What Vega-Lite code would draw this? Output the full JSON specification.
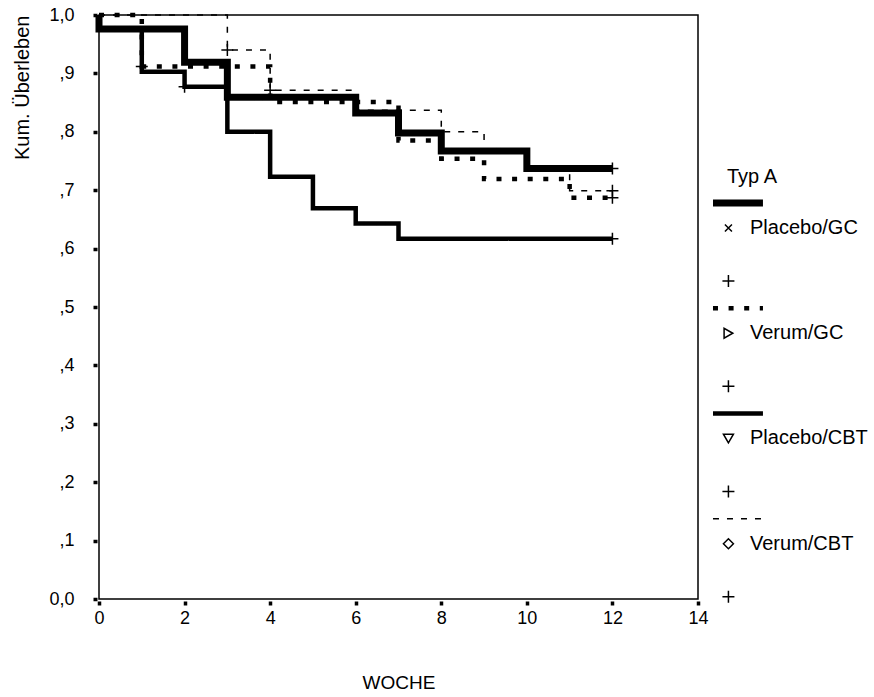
{
  "$schema": "https://vega.github.io/schema/vega-lite/v6.json",
  "padding": {"left": 11, "top": 0, "right": 0, "bottom": 0},
  "autosize": {"type": "pad"},
  "config": {"font": "Liberation Sans", "view": {"stroke": null}, "concat": {"spacing": 0}},
  "datasets": {
    "curves": [
      {"group": "Placebo/GC", "week": 0, "surv": 1.0},
      {"group": "Placebo/GC", "week": 0, "surv": 0.976},
      {"group": "Placebo/GC", "week": 2, "surv": 0.919},
      {"group": "Placebo/GC", "week": 3, "surv": 0.859},
      {"group": "Placebo/GC", "week": 6, "surv": 0.832},
      {"group": "Placebo/GC", "week": 7, "surv": 0.798},
      {"group": "Placebo/GC", "week": 8, "surv": 0.767},
      {"group": "Placebo/GC", "week": 10, "surv": 0.737},
      {"group": "Placebo/GC", "week": 12, "surv": 0.737},
      {"group": "Placebo/CBT", "week": 0, "surv": 1.0},
      {"group": "Placebo/CBT", "week": 0, "surv": 0.976},
      {"group": "Placebo/CBT", "week": 1, "surv": 0.903},
      {"group": "Placebo/CBT", "week": 2, "surv": 0.877},
      {"group": "Placebo/CBT", "week": 3, "surv": 0.8},
      {"group": "Placebo/CBT", "week": 4, "surv": 0.723},
      {"group": "Placebo/CBT", "week": 5, "surv": 0.669},
      {"group": "Placebo/CBT", "week": 6, "surv": 0.643},
      {"group": "Placebo/CBT", "week": 7, "surv": 0.617},
      {"group": "Placebo/CBT", "week": 12, "surv": 0.617},
      {"group": "Verum/CBT", "week": 0, "surv": 1.0},
      {"group": "Verum/CBT", "week": 3, "surv": 0.94},
      {"group": "Verum/CBT", "week": 4, "surv": 0.871},
      {"group": "Verum/CBT", "week": 6, "surv": 0.837},
      {"group": "Verum/CBT", "week": 8, "surv": 0.8},
      {"group": "Verum/CBT", "week": 9, "surv": 0.767},
      {"group": "Verum/CBT", "week": 10, "surv": 0.737},
      {"group": "Verum/CBT", "week": 11, "surv": 0.699},
      {"group": "Verum/CBT", "week": 12, "surv": 0.699},
      {"group": "Verum/GC", "week": 0, "surv": 1.0},
      {"group": "Verum/GC", "week": 1, "surv": 0.912},
      {"group": "Verum/GC", "week": 4, "surv": 0.851},
      {"group": "Verum/GC", "week": 7, "surv": 0.785},
      {"group": "Verum/GC", "week": 8, "surv": 0.754},
      {"group": "Verum/GC", "week": 9, "surv": 0.719},
      {"group": "Verum/GC", "week": 11, "surv": 0.687},
      {"group": "Verum/GC", "week": 12, "surv": 0.687}
    ],
    "censored": [
      {"group": "Placebo/GC", "week": 12, "surv": 0.737},
      {"group": "Placebo/CBT", "week": 2, "surv": 0.877},
      {"group": "Placebo/CBT", "week": 12, "surv": 0.617},
      {"group": "Verum/GC", "week": 1, "surv": 0.912},
      {"group": "Verum/GC", "week": 12, "surv": 0.687},
      {"group": "Verum/CBT", "week": 3, "surv": 0.94},
      {"group": "Verum/CBT", "week": 4, "surv": 0.871},
      {"group": "Verum/CBT", "week": 12, "surv": 0.699}
    ],
    "legend": [
      {"group": "Placebo/GC"},
      {"group": "Verum/GC"},
      {"group": "Placebo/CBT"},
      {"group": "Verum/CBT"}
    ]
  },
  "hconcat": [
    {
      "width": 599,
      "height": 584,
      "view": {"stroke": "black", "strokeWidth": 1.5},
      "layer": [
        {
          "data": {"name": "curves"},
          "mark": {"type": "line", "interpolate": "step-after", "color": "black", "strokeCap": "butt", "strokeJoin": "miter"},
          "encoding": {
            "x": {
              "field": "week", "type": "quantitative",
              "scale": {"domain": [0, 14], "nice": false},
              "axis": {
                "title": "WOCHE", "values": [0, 2, 4, 6, 8, 10, 12, 14], "format": "d",
                "grid": false, "domain": false, "tickSize": 4, "tickWidth": 3.5, "tickColor": "black",
                "offset": 2, "labelFontSize": 18, "labelColor": "black", "labelPadding": 4, "labelFlush": false,
                "titleFontSize": 19, "titleFontWeight": "normal", "titleColor": "black", "titlePadding": 46
              }
            },
            "y": {
              "field": "surv", "type": "quantitative",
              "scale": {"domain": [0, 1], "nice": false},
              "axis": {
                "title": "Kum. Überleben", "values": [0, 0.1, 0.2, 0.3, 0.4, 0.5, 0.6, 0.7, 0.8, 0.9, 1],
                "labelExpr": "datum.value == 0 ? '0,0' : datum.value == 1 ? '1,0' : ',' + round(datum.value * 10)",
                "grid": false, "domain": false, "tickSize": 4, "tickWidth": 3.5, "tickColor": "black",
                "offset": 2, "labelFontSize": 18, "labelColor": "black", "labelPadding": 19, "labelFlush": false,
                "titleFontSize": 20, "titleFontWeight": "normal", "titleColor": "black", "titleAnchor": "end",
                "titlePadding": 13, "minExtent": 52, "maxExtent": 52
              }
            },
            "detail": {"field": "group"},
            "strokeDash": {
              "field": "group", "type": "nominal",
              "scale": {"domain": ["Placebo/GC", "Verum/GC", "Placebo/CBT", "Verum/CBT"], "range": [[1, 0], [5, 10.6], [1, 0], [6, 8]]},
              "legend": null
            },
            "strokeWidth": {
              "field": "group", "type": "nominal",
              "scale": {"type": "ordinal", "domain": ["Placebo/GC", "Verum/GC", "Placebo/CBT", "Verum/CBT"], "range": [7, 4.5, 4.5, 1.5]},
              "legend": null
            }
          }
        },
        {
          "data": {"name": "censored"},
          "mark": {"type": "point", "shape": "M-1,0H1M0,-1V1", "filled": false, "color": "black", "strokeWidth": 1.5, "size": 144, "opacity": 1},
          "encoding": {
            "x": {"field": "week", "type": "quantitative"},
            "y": {"field": "surv", "type": "quantitative"}
          }
        }
      ]
    },
    {
      "width": 166,
      "height": 584,
      "view": {"stroke": null},
      "layer": [
        {
          "data": {"name": "legend"},
          "mark": {"type": "rule", "color": "black", "strokeCap": "butt"},
          "encoding": {
            "x": {"datum": 0.018, "type": "quantitative", "scale": {"domain": [0, 1], "nice": false}, "axis": null},
            "x2": {"datum": 0.319},
            "y": {
              "field": "group", "type": "nominal", "bandPosition": 0,
              "scale": {"type": "band", "domain": ["Placebo/GC", "Verum/GC", "Placebo/CBT", "Verum/CBT"], "range": [188, 609], "paddingInner": 0, "paddingOuter": 0},
              "axis": null
            },
            "strokeDash": {
              "field": "group", "type": "nominal",
              "scale": {"domain": ["Placebo/GC", "Verum/GC", "Placebo/CBT", "Verum/CBT"], "range": [[1, 0], [5, 10.6], [1, 0], [6, 8]]},
              "legend": null
            },
            "strokeWidth": {
              "field": "group", "type": "nominal",
              "scale": {"type": "ordinal", "domain": ["Placebo/GC", "Verum/GC", "Placebo/CBT", "Verum/CBT"], "range": [7, 4.5, 4.5, 1.5]},
              "legend": null
            }
          }
        },
        {
          "data": {"name": "legend"},
          "mark": {"type": "point", "filled": false, "color": "black", "strokeWidth": 1.5, "size": 100, "opacity": 1},
          "encoding": {
            "x": {"datum": 0.111, "type": "quantitative"},
            "y": {"field": "group", "type": "nominal", "bandPosition": 0.2375},
            "shape": {
              "field": "group", "type": "nominal",
              "scale": {"domain": ["Placebo/GC", "Verum/GC", "Placebo/CBT", "Verum/CBT"], "range": ["M-0.7,-0.7L0.7,0.7M-0.7,0.7L0.7,-0.7", "triangle-right", "triangle-down", "diamond"]},
              "legend": null
            }
          }
        },
        {
          "data": {"name": "legend"},
          "mark": {"type": "text", "align": "left", "baseline": "middle", "fontSize": 20, "color": "black"},
          "encoding": {
            "x": {"datum": 0.241, "type": "quantitative"},
            "y": {"field": "group", "type": "nominal", "bandPosition": 0.2375},
            "text": {"field": "group"}
          }
        },
        {
          "data": {"name": "legend"},
          "mark": {"type": "point", "shape": "M-1,0H1M0,-1V1", "filled": false, "color": "black", "strokeWidth": 1.5, "size": 144, "opacity": 1},
          "encoding": {
            "x": {"datum": 0.111, "type": "quantitative"},
            "y": {"field": "group", "type": "nominal", "bandPosition": 0.74}
          }
        },
        {
          "data": {"values": [{"title": "Typ A"}]},
          "mark": {"type": "text", "align": "center", "baseline": "middle", "fontSize": 20, "color": "black", "dy": -26},
          "encoding": {
            "x": {"datum": 0.253, "type": "quantitative"},
            "y": {"datum": "Placebo/GC", "type": "nominal", "bandPosition": 0},
            "text": {"field": "title"}
          }
        }
      ]
    }
  ]
}
